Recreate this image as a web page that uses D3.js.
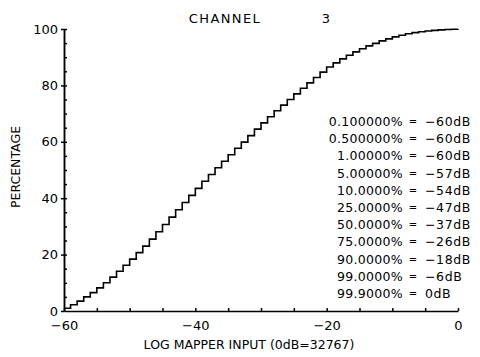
<!DOCTYPE html>
<html>
<head>
<meta charset="utf-8">
<script src="https://cdn.jsdelivr.net/npm/d3@7"></script>
<style>
  body { margin: 0; background: #fff; }
  svg { display: block; }
  text { font-family: "DejaVu Sans", sans-serif; fill: #000; }
  .axis path, .axis line { stroke: #000; stroke-width: 1.5; }
  .axis text { font-size: 13px; }
</style>
</head>
<body>
<svg id="chart" width="480" height="357"></svg>
<script>
// input level in dB (0dB = 32767) and cumulative percentage at that level
const levels = d3.range(-60, 1, 1);
const percentages = [
  1.0, 2.2, 3.5, 5.0, 6.5, 8.2, 10.0, 12.0, 14.1, 16.2,
  18.4, 20.7, 23.0, 25.5, 28.1, 30.7, 33.3, 35.9, 38.5, 41.0,
  43.5, 46.0, 48.4, 50.8, 53.1, 55.4, 57.7, 59.9, 62.2, 64.5,
  66.7, 68.9, 71.0, 73.0, 75.0, 77.0, 79.0, 80.9, 82.8, 84.7,
  86.5, 88.0, 89.4, 90.7, 91.9, 93.0, 94.0, 94.9, 95.8, 96.5,
  97.2, 97.8, 98.3, 98.7, 99.0, 99.3, 99.5, 99.7, 99.8, 99.9,
  100.0
];
const xTicks = [-60, -40, -20, 0];
const yTicks = [0, 20, 40, 60, 80, 100];
const legendPct = ["0.100000", "0.500000", "1.00000", "5.00000", "10.0000",
  "25.0000", "50.0000", "75.0000", "90.0000", "99.0000", "99.9000"];
const legendDb = [-60, -60, -60, -57, -54, -47, -37, -26, -18, -6, 0];

const svg = d3.select("#chart");
const x = d3.scaleLinear().domain([-60, 0]).range([64, 458]);
const y = d3.scaleLinear().domain([0, 100]).range([311, 29]);
const fmt = d3.format("d");

// x axis: small inward ticks every 5 dB, labels every 20
svg.append("g")
  .attr("class", "axis x_axis")
  .attr("transform", "translate(0," + y(0) + ")")
  .call(d3.axisBottom(x)
    .tickValues(d3.range(-60, 1, 5))
    .tickSize(-3)
    .tickSizeOuter(0)
    .tickPadding(10)
    .tickFormat(d => xTicks.includes(d) ? fmt(d) : ""));

// y axis: labelled ticks outward, minor ticks inward
svg.append("g")
  .attr("class", "axis y_axis")
  .attr("transform", "translate(" + x(-60) + ",0)")
  .call(d3.axisLeft(y)
    .tickValues(yTicks)
    .tickSize(3)
    .tickSizeOuter(0)
    .tickPadding(3)
    .tickFormat(fmt));

svg.append("g")
  .attr("class", "axis y_minor")
  .attr("transform", "translate(" + x(-60) + ",0)")
  .call(d3.axisRight(y)
    .tickValues(d3.range(5, 101, 5))
    .tickSize(3)
    .tickSizeOuter(0)
    .tickFormat(""));

// step curve
const data = levels.map((d, i) => ({ db: d, pct: percentages[i] }));
const line = d3.line()
  .x(d => x(d.db))
  .y(d => y(d.pct))
  .curve(d3.curveStepAfter);

svg.append("path")
  .datum(data)
  .attr("d", line)
  .attr("fill", "none")
  .attr("stroke", "#000")
  .attr("stroke-width", 1.6);

// titles
svg.append("text")
  .attr("x", 225).attr("y", 23)
  .attr("text-anchor", "middle")
  .attr("font-size", 13)
  .attr("letter-spacing", 1.4)
  .text("CHANNEL");
svg.append("text")
  .attr("x", 326).attr("y", 23)
  .attr("text-anchor", "middle")
  .attr("font-size", 13)
  .text("3");

svg.append("text")
  .attr("transform", "translate(20,167) rotate(-90)")
  .attr("text-anchor", "middle")
  .attr("font-size", 12.5)
  .text("PERCENTAGE");

svg.append("text")
  .attr("x", 249).attr("y", 349)
  .attr("text-anchor", "middle")
  .attr("font-size", 12.5)
  .text("LOG MAPPER INPUT (0dB=32767)");

// percentile table
const rows = svg.append("g").attr("font-size", 12.5);
legendPct.forEach((p, i) => {
  const ty = 126 + i * 17.2;
  rows.append("text")
    .attr("x", 403).attr("y", ty)
    .attr("text-anchor", "end")
    .attr("letter-spacing", 0.3)
    .text(p + "%");
  rows.append("text")
    .attr("x", 413).attr("y", ty - 1)
    .attr("text-anchor", "middle")
    .attr("font-size", 10)
    .text("=");
  rows.append("text")
    .attr("x", 425).attr("y", ty)
    .attr("letter-spacing", 0.6)
    .text(legendDb[i] === 0 ? "0dB" : "\u2212" + Math.abs(legendDb[i]) + "dB");
});
</script>
</body>
</html>
